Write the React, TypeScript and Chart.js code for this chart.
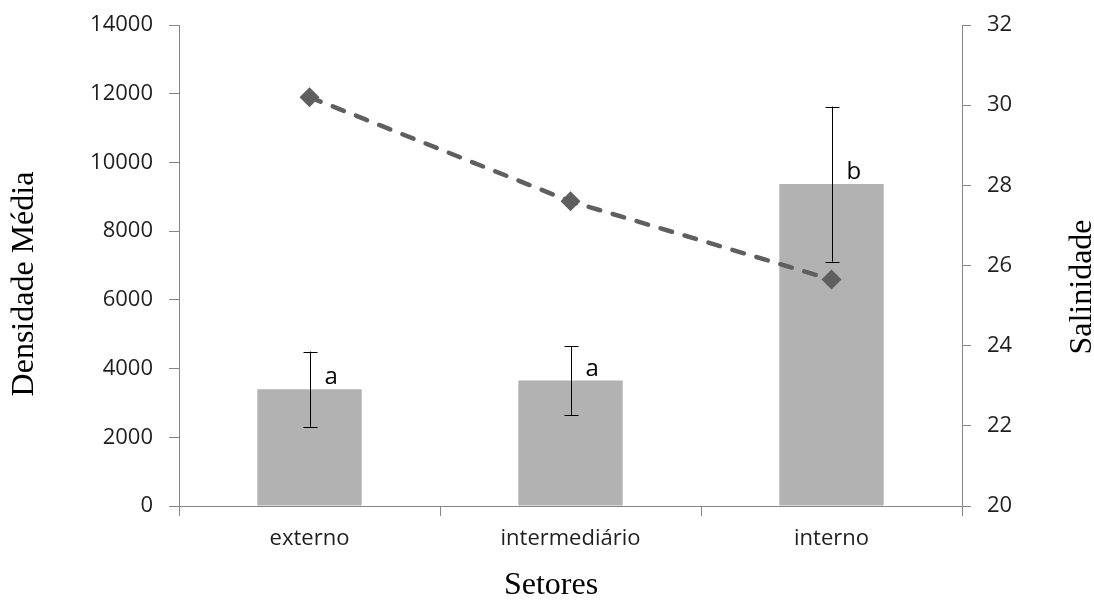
import React, { useEffect, useRef } from "react";
import { Chart, registerables } from "chart.js";

Chart.register(...registerables);

const categories = ["externo", "intermediário", "interno"];
const densidade = [3400, 3650, 9370];
const densidadeErro = [1095, 1005, 2255];
const letras = ["a", "a", "b"];
const salinidade = [30.2, 27.6, 25.65];
const leftTicks = [0, 2000, 4000, 6000, 8000, 10000, 12000, 14000];
const rightTicks = [20, 22, 24, 26, 28, 30, 32];

const yTitle = "Densidade Média";
const y1Title = "Salinidade";
const xTitle = "Setores";

const AXIS = "#868686";
const TICK_FONT = { family: "'Open Sans'", size: 22 };
const TICK_COLOR = "#1f1f1f";

const overlayPlugin = {
  id: "overlay",
  afterDatasetDraw(chart: any, args: any) {
    if (args.index !== 1) return;
    const ctx = chart.ctx;
    const meta = chart.getDatasetMeta(1);
    const y = chart.scales.y;
    ctx.save();
    ctx.strokeStyle = "#000000";
    ctx.lineWidth = 1;
    meta.data.forEach((bar: any, i: number) => {
      const x = Math.round(bar.x) + 0.5;
      const top = y.getPixelForValue(densidade[i] + densidadeErro[i]);
      const bot = y.getPixelForValue(densidade[i] - densidadeErro[i]);
      ctx.beginPath();
      ctx.moveTo(x, top);
      ctx.lineTo(x, bot);
      ctx.moveTo(x - 7, Math.round(top) + 0.5);
      ctx.lineTo(x + 7, Math.round(top) + 0.5);
      ctx.moveTo(x - 7, Math.round(bot) + 0.5);
      ctx.lineTo(x + 7, Math.round(bot) + 0.5);
      ctx.stroke();
      ctx.fillStyle = "#000000";
      ctx.font = "24px 'Open Sans'";
      ctx.textAlign = "left";
      ctx.textBaseline = "alphabetic";
      ctx.fillText(letras[i], bar.x + 15, y.getPixelForValue(densidade[i]) - 5);
    });
    ctx.restore();
  },
  afterDraw(chart: any) {
    const ctx = chart.ctx;
    ctx.save();
    ctx.fillStyle = "#000000";
    ctx.font = "32px 'Liberation Serif'";
    ctx.textAlign = "center";
    ctx.textBaseline = "alphabetic";
    ctx.save();
    ctx.translate(33, 284);
    ctx.rotate(-Math.PI / 2);
    ctx.fillText(yTitle, 0, 0);
    ctx.restore();
    ctx.save();
    ctx.translate(1091, 287);
    ctx.rotate(-Math.PI / 2);
    ctx.fillText(y1Title, 0, 0);
    ctx.restore();
    ctx.fillText(xTitle, 551, 594);
    ctx.restore();
  },
};

export default function App() {
  const ref = useRef<HTMLCanvasElement | null>(null);
  useEffect(() => {
    if (!ref.current) return;
    const chart = new Chart(ref.current, {
      type: "bar",
      data: {
        labels: categories,
        datasets: [
          {
            type: "line",
            label: "Salinidade",
            data: salinidade,
            yAxisID: "y1",
            borderColor: "#5f5f5f",
            backgroundColor: "#5f5f5f",
            borderWidth: 4.5,
            borderDash: [12, 13],
            borderCapStyle: "round",
            pointStyle: "rectRot",
            pointRadius: 10,
            pointBackgroundColor: "#5f5f5f",
            pointBorderColor: "#5f5f5f",
            pointBorderWidth: 0,
            tension: 0,
            fill: false,
            order: 0,
          } as any,
          {
            type: "bar",
            label: "Densidade Média",
            data: densidade,
            yAxisID: "y",
            backgroundColor: "#b2b2b2",
            borderWidth: 0,
            categoryPercentage: 1,
            barPercentage: 0.4,
            order: 1,
          },
        ],
      },
      options: {
        responsive: false,
        animation: false,
        devicePixelRatio: 1,
        layout: { padding: { top: 25, left: 0, right: 0, bottom: 0 } },
        plugins: { legend: { display: false }, tooltip: { enabled: false }, title: { display: false } },
        scales: {
          x: {
            offset: true,
            grid: { drawOnChartArea: false, drawTicks: true, tickLength: 10, color: AXIS, offset: true },
            border: { color: AXIS, width: 1 },
            ticks: { color: TICK_COLOR, font: TICK_FONT, padding: 10, maxRotation: 0 },
            afterFit: (s: any) => { s.height = 98; s.paddingLeft = 0; s.paddingRight = 0; },
          },
          y: {
            position: "left",
            min: 0,
            max: 14000,
            afterBuildTicks: (s: any) => { s.ticks = leftTicks.map((v) => ({ value: v })); },
            grid: { drawOnChartArea: false, drawTicks: true, tickLength: 10, color: AXIS },
            border: { color: AXIS, width: 1 },
            ticks: { color: TICK_COLOR, font: TICK_FONT, padding: 16, callback: (v: any) => String(v) },
            afterFit: (s: any) => { s.width = 179; s.paddingTop = 0; s.paddingBottom = 0; },
          },
          y1: {
            position: "right",
            min: 20,
            max: 32,
            afterBuildTicks: (s: any) => { s.ticks = rightTicks.map((v) => ({ value: v })); },
            grid: { drawOnChartArea: false, drawTicks: true, tickLength: 9, color: AXIS },
            border: { color: AXIS, width: 1 },
            ticks: { color: TICK_COLOR, font: TICK_FONT, padding: 16, callback: (v: any) => String(v) },
            afterFit: (s: any) => { s.width = 132; s.paddingTop = 0; s.paddingBottom = 0; },
          },
        },
      },
      plugins: [overlayPlugin],
    });
    return () => chart.destroy();
  }, []);
  return (
    <div style={{ position: "fixed", left: 0, top: 0, width: 1094, height: 604, background: "#ffffff" }}>
      <canvas ref={ref} width={1094} height={604} style={{ width: 1094, height: 604, display: "block" }} />
    </div>
  );
}
